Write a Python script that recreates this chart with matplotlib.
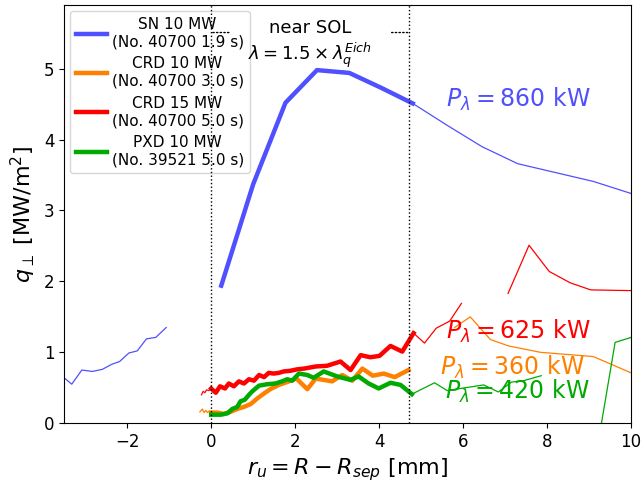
#!/usr/bin/env python3
import numpy as np
import matplotlib
matplotlib.use('Agg')
import matplotlib.pyplot as pl

nan = np.nan

# SN 10 MW (No. 40700, 1.9 s)
sn_x = [-3.5, -3.32, -3.08, -2.83, -2.59, -2.37, -2.18, -1.96, -1.76, -1.54, -1.32, -1.07, nan,
        0.24, 1.0, 1.77, 2.52, 3.29, 4.05, 4.8, 5.65, 6.45, 7.3, 9.1, 10.0]
sn_q = [0.64, 0.55, 0.75, 0.73, 0.76, 0.83, 0.87, 0.99, 1.02, 1.19, 1.21, 1.35, nan,
        1.94, 3.37, 4.52, 4.98, 4.94, 4.73, 4.51, 4.19, 3.9, 3.66, 3.41, 3.24]

# CRD 10 MW (No. 40700, 3.0 s)
crd10_x = [-0.27, -0.21, -0.17, -0.13, -0.09, -0.05, 0.0, 0.15, 0.3, 0.46, 0.62, 0.78, 0.94, 1.1,
           1.26, 1.41, 1.61, 1.81, 2.03, 2.29, 2.49, 2.88, 3.12, 3.36, 3.6, 3.85, 4.11, 4.37, 4.70,
           nan, 5.8, 6.17, 6.65, 7.08, 7.84, 9.1, 10.0]
crd10_q = [0.16, 0.20, 0.15, 0.18, 0.15, 0.17, 0.15, 0.15, 0.13, 0.16, 0.20, 0.23, 0.27, 0.35,
           0.42, 0.48, 0.54, 0.58, 0.63, 0.48, 0.63, 0.59, 0.68, 0.60, 0.77, 0.67, 0.70, 0.65, 0.75,
           nan, 1.35, 1.50, 1.18, 1.09, 1.00, 0.94, 0.71]

# CRD 15 MW (No. 40700, 5.0 s)
crd15_x = [-0.23, -0.19, -0.15, -0.11, -0.05, 0.0, 0.11, 0.21, 0.33, 0.42, 0.54, 0.66, 0.78, 0.9,
           1.02, 1.14, 1.26, 1.37, 1.49, 1.61, 1.73, 1.89, 2.05, 2.21, 2.49, 2.76, 3.08, 3.32, 3.56,
           3.79, 4.01, 4.27, 4.55, 4.82, 5.08, 5.36, 5.68, 5.96, nan, 7.07, 7.57, 8.05, 8.55, 9.04, 10.0]
crd15_q = [0.40, 0.45, 0.43, 0.47, 0.46, 0.49, 0.43, 0.52, 0.49, 0.56, 0.52, 0.59, 0.56, 0.62,
           0.60, 0.68, 0.65, 0.71, 0.70, 0.71, 0.73, 0.74, 0.76, 0.77, 0.80, 0.81, 0.87, 0.75, 0.96,
           0.93, 0.95, 1.09, 1.01, 1.27, 1.13, 1.34, 1.44, 1.69, nan, 1.83, 2.51, 2.14, 1.98, 1.88, 1.87]

# PXD 10 MW (No. 39521, 5.0 s)
pxd_x = [0.0, 0.23, 0.39, 0.5, 0.62, 0.70, 0.8, 0.9, 0.98, 1.06, 1.14, 1.34, 1.53, 1.69, 1.81,
         1.93, 2.09, 2.29, 2.44, 2.68, 3.0, 3.32, 3.51, 3.75, 3.99, 4.27, 4.51, 4.78, 5.32, 5.62,
         6.05, 6.49, 6.84, 7.15, 7.44, 7.86, nan, 9.28, 9.62, 10.0]
pxd_q = [0.12, 0.12, 0.14, 0.20, 0.23, 0.31, 0.33, 0.40, 0.45, 0.49, 0.53, 0.55, 0.56, 0.59, 0.62,
         0.60, 0.70, 0.68, 0.64, 0.73, 0.66, 0.61, 0.66, 0.56, 0.49, 0.57, 0.54, 0.41, 0.57, 0.46,
         0.50, 0.54, 0.44, 0.58, 0.60, 0.67, nan, -0.05, 1.14, 1.21]

labels = ['SN 10 MW\n(No. 40700 1.9 s)', 'CRD 10 MW\n(No. 40700 3.0 s)',
          'CRD 15 MW\n(No. 40700 5.0 s)', 'PXD 10 MW\n(No. 39521 5.0 s)']
p_lambda = ['860', '360', '625', '420']
lambda_near = 4.72  # 1.5 x lambda_q^Eich [mm]


#######################################################
def plot():
    colors = ['#5050ff', '#ff8000', '#ff0000', '#00aa00']
    series = [(sn_x, sn_q), (crd10_x, crd10_q), (crd15_x, crd15_q), (pxd_x, pxd_q)]

    fig, ax = pl.subplots(figsize=(6.42, 4.87), dpi=100)
    fig.subplots_adjust(left=0.1, right=0.983, top=0.99, bottom=0.131)

    handles = []
    for (x, q), c in zip(series, colors):
        x = np.array(x)
        q = np.array(q)
        # whole profile, thin
        ax.plot(x, q, '-', color=c, lw=0.9)
        # near SOL part, thick
        near = (x >= 0) & (x <= 4.85)
        h, = ax.plot(np.where(near, x, nan), q, '-', color=c, lw=3.2)
        handles.append(h)

    ax.set_xlim(-3.5, 10)
    ax.set_ylim(0, 5.9)

    # near SOL borders, drawn over the legend frame
    ax.axvline(0, color='k', ls=':', lw=1, zorder=6)
    ax.axvline(lambda_near, color='k', ls=':', lw=1, zorder=6)

    # near SOL label with dotted lines going out to both borders
    txt = 'near SOL\n' + r'$\lambda = 1.5\times\lambda_q^{Eich}$'
    xc, yc, y_line = lambda_near / 2, 5.34, 5.51
    probe = ax.text(xc, yc, txt, ha='center', va='center', fontsize=13)
    fig.canvas.draw()
    bb = probe.get_window_extent()
    probe.remove()
    rel_y = (ax.transData.transform((0, y_line))[1] - bb.y0) / bb.height
    for xe, tc in [(0, 'k'), (lambda_near, 'none')]:
        ax.annotate(txt, xy=(xe, y_line), xytext=(xc, yc), ha='center', va='center',
                    fontsize=13, color=tc, zorder=6,
                    arrowprops=dict(arrowstyle='-', ls=':', lw=1, color='k',
                                    shrinkA=12, shrinkB=0, relpos=(0.5, rel_y)))

    # Power in the near SOL
    txt_pos = [(5.6, 4.57), (5.45, 0.78), (5.6, 1.29), (5.57, 0.45)]
    for (tx, ty), p, c in zip(txt_pos, p_lambda, colors):
        ax.text(tx, ty, r'$P_\lambda = $' + p + ' kW', color=c, fontsize=17,
                ha='left', va='center')

    ax.set_xlabel(r'$r_u = R - R_{sep}$ [mm]', fontsize=16)
    ax.set_ylabel(r'$q_\perp$ [MW/m$^2$]', fontsize=16)
    ax.tick_params(axis='both', which='major', labelsize=12)

    leg = ax.legend(handles, labels, loc='upper left', fontsize=11,
                    handlelength=2.0, handletextpad=0.3, labelspacing=0.45,
                    borderaxespad=0.4)
    for t in leg.get_texts():
        t.set_multialignment('center')

    pl.savefig('out.png', dpi=100)
    pl.close()


#######################################################
if __name__ == '__main__':
    plot()
